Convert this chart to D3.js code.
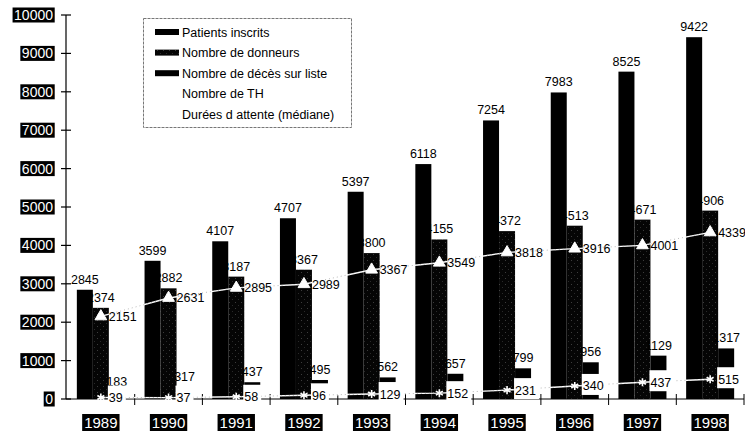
<!DOCTYPE html>
<html>
<head>
<meta charset="utf-8">
<script src="https://cdn.jsdelivr.net/npm/d3@7"></script>
<style>
  html, body { margin: 0; padding: 0; background: #fff; }
  svg { display: block; font-family: "Liberation Sans", Arial, sans-serif; }
</style>
</head>
<body>
<svg id="chart" width="745" height="434"></svg>
<script>
// Transplant activity 1989-1998
const years = ["1989","1990","1991","1992","1993","1994","1995","1996","1997","1998"];
const patients = [2845, 3599, 4107, 4707, 5397, 6118, 7254, 7983, 8525, 9422];
const donneurs = [2374, 2882, 3187, 3367, 3800, 4155, 4372, 4513, 4671, 4906];
const deces    = [183, 317, 437, 495, 562, 657, 799, 956, 1129, 1317];
const nombreTH = [2151, 2631, 2895, 2989, 3367, 3549, 3818, 3916, 4001, 4339];
const attente  = [39, 37, 58, 96, 129, 152, 231, 340, 437, 515];
const yTicks = [0, 1000, 2000, 3000, 4000, 5000, 6000, 7000, 8000, 9000, 10000];
const barSeries = ["patients", "donneurs", "deces"];
const legendLabels = ["Patients inscrits", "Nombre de donneurs", "Nombre de décès sur liste", "Nombre de TH", "Durées d attente (médiane)"];

const svg = d3.select("#chart");
const defs = svg.append("defs");
// stippled dark fill for the donor bars
const pat = defs.append("pattern").attr("id", "stipple")
  .attr("width", 6).attr("height", 6).attr("patternUnits", "userSpaceOnUse");
pat.append("rect").attr("width", 6).attr("height", 6).attr("fill", "#050505");
pat.append("rect").attr("x", 1).attr("y", 2).attr("width", 1).attr("height", 1).attr("fill", "#3c3c3c");
pat.append("rect").attr("x", 4).attr("y", 5).attr("width", 1).attr("height", 1).attr("fill", "#2a2a2a");

const x = d3.scaleBand().domain(years).range([67, 744]);
const x1 = d3.scaleBand().domain(barSeries).range([0, x.bandwidth()]).paddingOuter(0.615);
const y = d3.scaleLinear().domain([0, 10000]).range([399, 15]);

const fills = { patients: "#000", donneurs: "url(#stipple)", deces: "#000" };
const values = { patients, donneurs, deces };

// bars
barSeries.forEach(s => {
  svg.append("g").selectAll("rect").data(years).join("rect")
    .attr("x", d => x(d) + x1(s))
    .attr("y", (d, i) => y(values[s][i]))
    .attr("width", x1.bandwidth())
    .attr("height", (d, i) => y(0) - y(values[s][i]))
    .attr("fill", fills[s]);
});

// bar value labels
barSeries.forEach(s => {
  svg.append("g").selectAll("text").data(years).join("text")
    .attr("x", d => x(d) + x1(s) + x1.bandwidth() / 2)
    .attr("y", (d, i) => y(values[s][i]) - 6)
    .attr("text-anchor", "middle")
    .attr("font-size", 12.5)
    .attr("fill", "#000")
    .text((d, i) => values[s][i]);
});

// axes
const yAxis = svg.append("g");
yAxis.append("line").attr("x1", 66).attr("x2", 66).attr("y1", y(10000)).attr("y2", y(0))
  .attr("stroke", "#000").attr("stroke-width", 1.2);
yTicks.forEach(t => {
  yAxis.append("line").attr("x1", 61).attr("x2", 71).attr("y1", y(t)).attr("y2", y(t))
    .attr("stroke", "#000").attr("stroke-width", 1.2);
});
const yLab = yAxis.selectAll("g.lab").data(yTicks).join("g").attr("class", "lab");
yLab.each(function(t) {
  const g = d3.select(this);
  const txt = g.append("text").attr("x", 53).attr("y", y(t) + 5)
    .attr("text-anchor", "end").attr("font-size", 14).attr("fill", "#fff").text(t);
  const bb = txt.node().getBBox();
  g.insert("rect", "text").attr("x", bb.x - 1.5).attr("y", y(t) - 7.5)
    .attr("width", bb.width + 3).attr("height", 15).attr("fill", "#000");
});

const xAxis = svg.append("g");
xAxis.append("line").attr("x1", 66).attr("x2", 744).attr("y1", y(0)).attr("y2", y(0))
  .attr("stroke", "#000").attr("stroke-width", 1);
years.forEach(yr => {
  xAxis.append("line").attr("x1", x(yr) + x.bandwidth()).attr("x2", x(yr) + x.bandwidth())
    .attr("y1", y(0) - 5).attr("y2", y(0) + 6).attr("stroke", "#000").attr("stroke-width", 1);
});
xAxis.selectAll("g.yr").data(years).join("g").attr("class", "yr").each(function(yr) {
  const g = d3.select(this);
  const cx = x(yr) + x.bandwidth() / 2;
  const txt = g.append("text").attr("x", cx).attr("y", 428)
    .attr("text-anchor", "middle").attr("font-size", 15).attr("fill", "#fff").text(yr);
  const bb = txt.node().getBBox();
  g.insert("rect", "text").attr("x", bb.x - 2).attr("y", 414)
    .attr("width", bb.width + 4).attr("height", 17).attr("fill", "#000");
});

// lines with markers and value labels
const cx = d => x(d) + x.bandwidth() / 2;
function drawSeries(vals, symbol, style) {
  const pts = years.map((d, i) => [cx(d), y(vals[i])]);
  const line = d3.line();
  svg.append("path").attr("d", line(pts)).attr("fill", "none")
    .attr("stroke", "#fff").attr("stroke-width", 1.4);
  svg.append("path").attr("d", line(pts)).attr("fill", "none")
    .attr("stroke", "#bbb").attr("stroke-width", 1).attr("stroke-dasharray", "1,3");
  const labels = svg.append("g").selectAll("g").data(pts).join("g");
  labels.each(function(p, i) {
    const g = d3.select(this);
    const txt = g.append("text").attr("x", p[0] + 8).attr("y", p[1] + 4.5)
      .attr("font-size", 12.5).attr("fill", "#000").text(vals[i]);
    if (style.boxed) {
      const bb = txt.node().getBBox();
      g.insert("rect", "text").attr("x", p[0] + 7).attr("y", p[1] - 12)
        .attr("width", bb.width + 4).attr("height", 21).attr("fill", "#fff");
    }
  });
  const sym = d3.symbol().type(symbol).size(style.size);
  svg.append("g").selectAll("path").data(pts).join("path")
    .attr("transform", p => `translate(${p[0]},${p[1]})`)
    .attr("d", sym())
    .attr("fill", style.fill).attr("stroke", style.stroke)
    .attr("stroke-width", style.sw);
}
drawSeries(nombreTH, d3.symbolTriangle, { size: 60, fill: "#fff", stroke: "#fff", sw: 1, boxed: false });
drawSeries(attente, d3.symbolAsterisk, { size: 45, fill: "none", stroke: "#fff", sw: 1.6, boxed: true });

// legend
const lg = svg.append("g");
lg.append("rect").attr("x", 143.5).attr("y", 18.5).attr("width", 208).attr("height", 109)
  .attr("fill", "#fff").attr("stroke", "#777").attr("stroke-width", 1).attr("stroke-dasharray", "3,1");
const swatch = ["#000", "url(#stipple)", "#000", null, null];
legendLabels.forEach((lab, i) => {
  const yy = 32 + i * 20.6;
  if (swatch[i]) {
    lg.append("rect").attr("x", 155).attr("y", yy - 3).attr("width", 24).attr("height", 6)
      .attr("fill", swatch[i]);
  }
  lg.append("text").attr("x", 182).attr("y", yy + 4.5).attr("font-size", 12.5)
    .attr("fill", "#000").text(lab);
});
</script>
</body>
</html>
